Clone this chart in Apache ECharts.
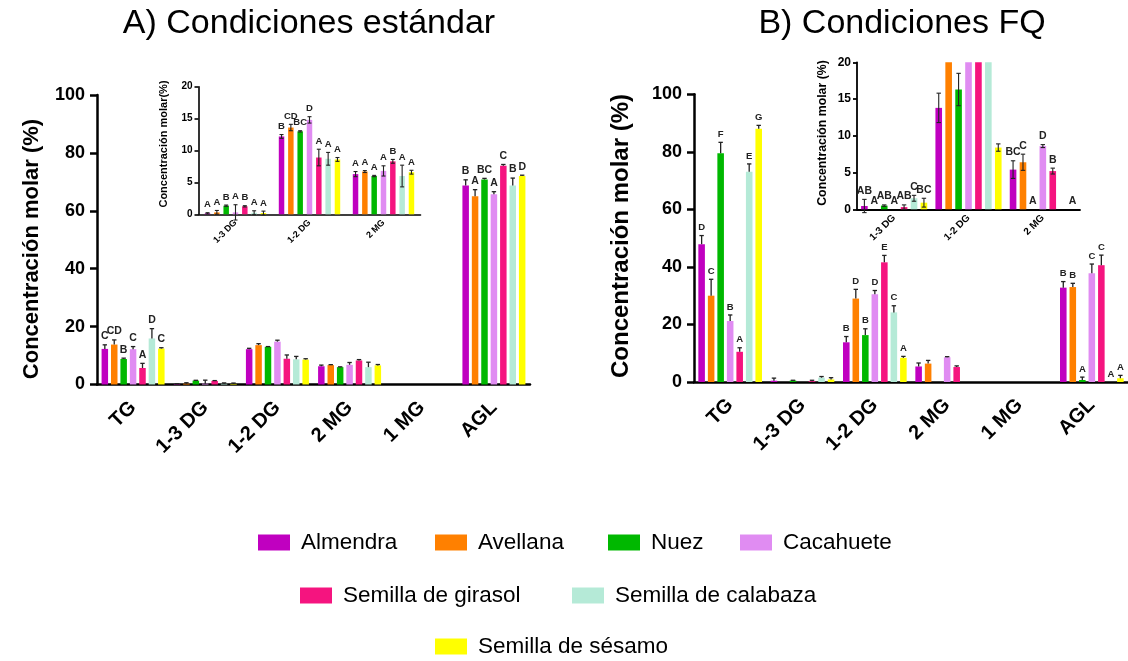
<!DOCTYPE html>
<html>
<head>
<meta charset="utf-8">
<script src="https://cdn.jsdelivr.net/npm/echarts@6/dist/echarts.min.js"></script>
<style>
  html, body { margin: 0; padding: 0; background: #fff; }
  #chart { width: 1128px; height: 661px; }
</style>
</head>
<body>
<div id="chart"></div>
<script>
// Acylglycerol fractions (molar %) for each seed / nut, two hydrolysis conditions
const categories = ['TG', '1-3 DG', '1-2 DG', '2 MG', '1 MG', 'AGL'];
const insetCats = [1, 2, 3]; // 1-3 DG, 1-2 DG, 2 MG shown enlarged
const species = ['Almendra', 'Avellana', 'Nuez', 'Cacahuete',
                 'Semilla de girasol', 'Semilla de calabaza', 'Semilla de sésamo'];
const colors = ['#C000C0', '#FF8000', '#00B800', '#E08CF2', '#F5147F', '#B5EAD7', '#FFFF00'];

// A) standard conditions: rows = species, columns = categories
const stdMean = [
  [12.3, 0.15, 12.2, 6.3, 0, 68.7],
  [13.8, 0.3, 13.6, 6.7, 0, 65.0],
  [8.8, 1.35, 13.0, 6.0, 0, 70.8],
  [12.2, 0.3, 14.8, 6.8, 0, 65.7],
  [5.7, 1.25, 8.9, 8.3, 0, 75.6],
  [15.9, 0.25, 8.7, 6.0, 0, 68.7],
  [12.4, 0.2, 8.6, 6.6, 0, 72.0]
];
const stdErr = [
  [1.4, 0.1, 0.3, 0.4, 0, 2.0],
  [1.6, 0.3, 0.5, 0.15, 0, 2.3],
  [0.3, 0.1, 0.1, 0.1, 0, 0.4],
  [0.9, 1.2, 0.5, 0.8, 0, 0.9],
  [1.6, 0.1, 1.3, 0.3, 0, 0.4],
  [3.4, 0.3, 1.0, 1.7, 0, 2.6],
  [0.3, 0.3, 0.3, 0.3, 0, 0.3]
];
const stdLetters = [
  ['C', 'A', 'B', 'A', '', 'B'],
  ['CD', 'A', 'CD', 'A', '', 'A'],
  ['B', 'B', 'BC', 'A', '', 'BC'],
  ['C', 'A', 'D', 'A', '', 'A'],
  ['A', 'B', 'A', 'B', '', 'C'],
  ['D', 'A', 'A', 'A', '', 'B'],
  ['C', 'A', 'A', 'A', '', 'D']
];

// B) FQ conditions
const fqMean = [
  [47.9, 0.45, 13.8, 5.4, 0, 32.8],
  [30.0, 0, 29.0, 6.4, 0, 33.0],
  [79.5, 0.5, 16.3, 0, 0, 0.7],
  [21.2, 0, 30.5, 8.6, 0, 37.8],
  [10.5, 0.3, 41.6, 5.2, 0, 40.6],
  [73.1, 1.5, 24.2, 0, 0, 0],
  [88.0, 0.9, 8.4, 0, 0, 1.3]
];
const fqErr = [
  [3.0, 0.9, 2.0, 1.2, 0, 2.1],
  [5.7, 0, 3.2, 1.1, 0, 1.3],
  [3.8, 0.1, 2.2, 0, 0, 1.0],
  [2.1, 0, 1.3, 0.2, 0, 3.2],
  [1.4, 0.3, 2.4, 0.4, 0, 3.5],
  [2.7, 0.4, 2.3, 0, 0, 0],
  [1.2, 0.6, 0.5, 0, 0, 1.0]
];
const fqLetters = [
  ['D', 'AB', 'B', 'BC', '', 'B'],
  ['C', 'A', 'D', 'C', '', 'B'],
  ['F', 'AB', 'B', 'A', '', 'A'],
  ['B', 'A', 'D', 'D', '', 'C'],
  ['A', 'AB', 'E', 'B', '', 'C'],
  ['E', 'C', 'C', '', '', 'A'],
  ['G', 'BC', 'A', 'A', '', 'A']
];

const FONT = 'Liberation Sans, Arial, Helvetica, sans-serif';

const panels = [
  { grid: { left: 97, top: 95, width: 433, height: 289.5 }, cats: [0, 1, 2, 3, 4, 5],
    mean: stdMean, err: stdErr, letters: stdLetters, letterCats: [0, 5],
    ymax: 100, yint: 20, inset: false, catGap: 0.127, barGap: 0.45,
    axisW: 2.5, tickLen: 7, yFont: 18, xFont: 20, xMargin: 20, letterFont: 10.5, capW: 2.2 },
  { grid: { left: 198.5, top: 86.7, width: 222, height: 127.6 }, cats: insetCats,
    mean: stdMean, err: stdErr, letters: stdLetters, letterCats: [1, 2, 3],
    ymax: 20, yint: 5, inset: true, catGap: 0.17, barGap: 0.7,
    axisW: 1.6, tickLen: 4, yFont: 10, xFont: 9, xMargin: 7, letterFont: 9.5, capW: 2 },
  { grid: { left: 694, top: 94.3, width: 434, height: 287.7 }, cats: [0, 1, 2, 3, 4, 5],
    mean: fqMean, err: fqErr, letters: fqLetters, letterCats: [0, 2, 5],
    ymax: 100, yint: 20, inset: false, catGap: 0.12, barGap: 0.45,
    axisW: 2.5, tickLen: 7, yFont: 18, xFont: 20, xMargin: 20, letterFont: 9.5, capW: 2.2 },
  { grid: { left: 857, top: 62.3, width: 223, height: 147 }, cats: insetCats,
    mean: fqMean, err: fqErr, letters: fqLetters, letterCats: [1, 3],
    ymax: 20, yint: 5, inset: true, catGap: 0.11, barGap: 0.5,
    axisW: 1.8, tickLen: 4, yFont: 12, xFont: 10, xMargin: 7, letterFont: 10.5, capW: 2.2 }
];

const grids = panels.map(p => Object.assign({ containLabel: false }, p.grid));

const xAxes = panels.map((p, i) => ({
  type: 'category', gridIndex: i,
  data: p.cats.map(c => categories[c]),
  axisLine: { lineStyle: { color: '#000', width: p.axisW } },
  axisTick: { alignWithLabel: true, length: p.tickLen + 1, lineStyle: { color: '#000', width: p.axisW } },
  axisLabel: { interval: 0, rotate: 45, color: '#000', fontWeight: 'bold',
               fontSize: p.xFont, fontFamily: FONT, margin: p.xMargin },
  splitLine: { show: false }
}));

const yAxes = panels.map((p, i) => ({
  type: 'value', gridIndex: i, min: 0, max: p.ymax, interval: p.yint,
  axisLine: { show: true, lineStyle: { color: '#000', width: p.axisW } },
  axisTick: { show: true, length: p.tickLen, lineStyle: { color: '#000', width: p.axisW } },
  axisLabel: { color: '#000', fontWeight: 'bold', fontSize: p.yFont, fontFamily: FONT,
               margin: p.inset ? 6 : 12 },
  splitLine: { show: false }
}));

const series = [];
panels.forEach((p, pi) => {
  species.forEach((name, si) => {
    series.push({
      type: 'bar', name, xAxisIndex: pi, yAxisIndex: pi,
      data: p.cats.map(c => p.mean[si][c]),
      itemStyle: { color: colors[si] },
      barGap: (p.barGap * 100) + '%',
      barCategoryGap: (p.catGap * 100) + '%',
      clip: true, silent: true, animation: false
    });
  });

  // error bars and significance letters, placed on the same band layout as the bars
  const data = [];
  p.cats.forEach((c, ci) => species.forEach((s, si) => {
    data.push([ci, si, p.mean[si][c], p.err[si][c]]);
  }));
  series.push({
    type: 'custom', xAxisIndex: pi, yAxisIndex: pi, z: 5, silent: true,
    clip: false, animation: false, encode: { x: 0, y: 2 }, data,
    renderItem(params, api) {
      const ci = api.value(0), si = api.value(1), m = api.value(2), e = api.value(3);
      const cat = p.cats[ci];
      const n = species.length;
      const band = api.size([1, 0])[0];
      const avail = band * (1 - p.catGap);
      const bw = avail / (n + (n - 1) * p.barGap);
      const base = api.coord([ci, 0]);
      const cx = base[0] - avail / 2 + si * bw * (1 + p.barGap) + bw / 2;
      const children = [];
      if (p.inset && m > p.ymax) return { type: 'group', children };
      const yTop = api.coord([ci, m + e])[1];
      const yMid = api.coord([ci, m])[1];
      const yBot = api.coord([ci, m - e])[1];
      const ls = { stroke: '#222', lineWidth: p.inset ? 1.1 : 1.3 };
      if (e > 0) {
        const y0 = p.inset ? yBot : yMid;
        children.push({ type: 'line', shape: { x1: cx, y1: y0, x2: cx, y2: yTop }, style: ls });
        children.push({ type: 'line', shape: { x1: cx - p.capW, y1: yTop, x2: cx + p.capW, y2: yTop }, style: ls });
        if (p.inset) {
          children.push({ type: 'line', shape: { x1: cx - p.capW, y1: yBot, x2: cx + p.capW, y2: yBot }, style: ls });
        }
      }
      const letter = p.letters[si][cat];
      if (letter && p.letterCats.indexOf(cat) >= 0) {
        children.push({
          type: 'text',
          style: { text: letter, x: cx, y: Math.min(yTop, yMid) - 3,
                   align: 'center', verticalAlign: 'bottom',
                   fontSize: p.letterFont, fontWeight: 'bold', fontFamily: FONT, fill: '#222' }
        });
      }
      return { type: 'group', children };
    }
  });
});

// legend items laid out in three rows
const legendSlots = [[258, 544], [435, 544], [608, 544], [740, 544],
                     [300, 597], [572, 597], [435, 648]];
const legends = species.map((s, i) => ({
  data: [{ name: s, icon: 'rect' }],
  left: legendSlots[i][0], top: legendSlots[i][1] - 13,
  padding: 0, itemWidth: 32, itemHeight: 16, itemGap: 0,
  textStyle: { fontSize: 22.5, color: '#000', fontFamily: FONT, padding: [0, 0, 0, 6] }
}));

const textEl = (x, y, text, size, weight, rot) => ({
  type: 'text', x, y, rotation: rot || 0, silent: true,
  style: { text, fontSize: size, fontWeight: weight, fontFamily: FONT, fill: '#000',
           align: 'center', verticalAlign: 'middle' }
});

const option = {
  backgroundColor: '#fff',
  animation: false,
  grid: grids,
  xAxis: xAxes,
  yAxis: yAxes,
  legend: legends,
  series,
  graphic: [
    textEl(309, 24, 'A) Condiciones estándar', 34, 'normal'),
    textEl(902, 24, 'B) Condiciones FQ', 34, 'normal'),
    textEl(32, 249, 'Concentración molar (%)', 22, 'bold', Math.PI / 2),
    textEl(621, 236, 'Concentración molar (%)', 24, 'bold', Math.PI / 2),
    textEl(164, 144, 'Concentración molar(%)', 11, 'bold', Math.PI / 2),
    textEl(823, 133, 'Concentración molar (%)', 12.3, 'bold', Math.PI / 2)
  ]
};

const chart = echarts.init(document.getElementById('chart'));
chart.setOption(option);
</script>
</body>
</html>
